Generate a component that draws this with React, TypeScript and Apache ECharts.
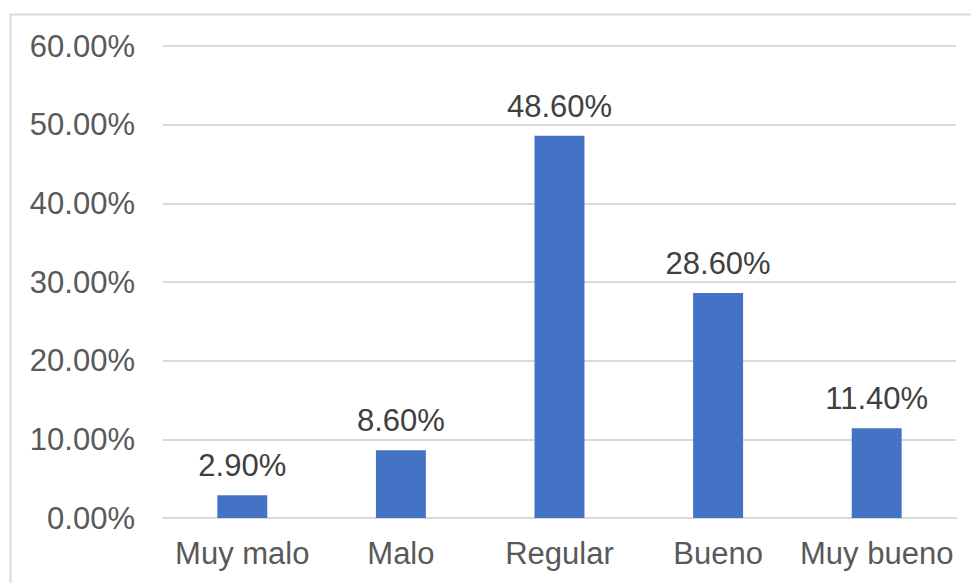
import React, { useEffect, useRef } from "react";
import * as echarts from "echarts";

const categories = ["Muy malo", "Malo", "Regular", "Bueno", "Muy bueno"];
const values = [2.9, 8.6, 48.6, 28.6, 11.4];

export default function App() {
  const ref = useRef<HTMLDivElement>(null);
  useEffect(() => {
    document.body.style.margin = "0";
    const chart = echarts.init(ref.current!, null, { renderer: "svg" });
    chart.setOption({
      animation: false,
      backgroundColor: "#ffffff",
      textStyle: { fontFamily: "Liberation Sans, Arial, sans-serif" },
      graphic: [
        {
          type: "rect",
          shape: { x: 10.5, y: 14.5, width: 1000, height: 700 },
          style: { fill: "none", stroke: "#d9d9d9", lineWidth: 2 },
          z: -1,
        },
      ],
      grid: { left: 163, right: 15, top: 46, bottom: 65 },
      xAxis: {
        type: "category",
        data: categories,
        axisLine: { show: true, lineStyle: { color: "#d9d9d9", width: 2 } },
        axisTick: { show: false },
        axisLabel: {
          color: "#595959",
          fontSize: 31,
          margin: 20,
          interval: 0,
          hideOverlap: false,
          fontFamily: "Liberation Sans, Arial, sans-serif",
        },
      },
      yAxis: {
        type: "value",
        min: 0,
        max: 60,
        interval: 10,
        axisLine: { show: false },
        axisTick: { show: false },
        splitLine: { lineStyle: { color: "#d9d9d9", width: 2 } },
        axisLabel: {
          color: "#595959",
          fontSize: 31,
          margin: 28,
          formatter: (v: number) => v.toFixed(2) + "%",
          fontFamily: "Liberation Sans, Arial, sans-serif",
        },
      },
      series: [
        {
          type: "bar",
          data: values,
          barWidth: "31.5%",
          itemStyle: { color: "#4472C4" },
          label: {
            show: true,
            position: "top",
            distance: 14,
            color: "#404040",
            fontSize: 31,
            fontFamily: "Liberation Sans, Arial, sans-serif",
            formatter: (p: any) => p.value.toFixed(2) + "%",
          },
        },
      ],
    });
    return () => chart.dispose();
  }, []);
  return <div ref={ref} style={{ width: 971, height: 583 }} />;
}
